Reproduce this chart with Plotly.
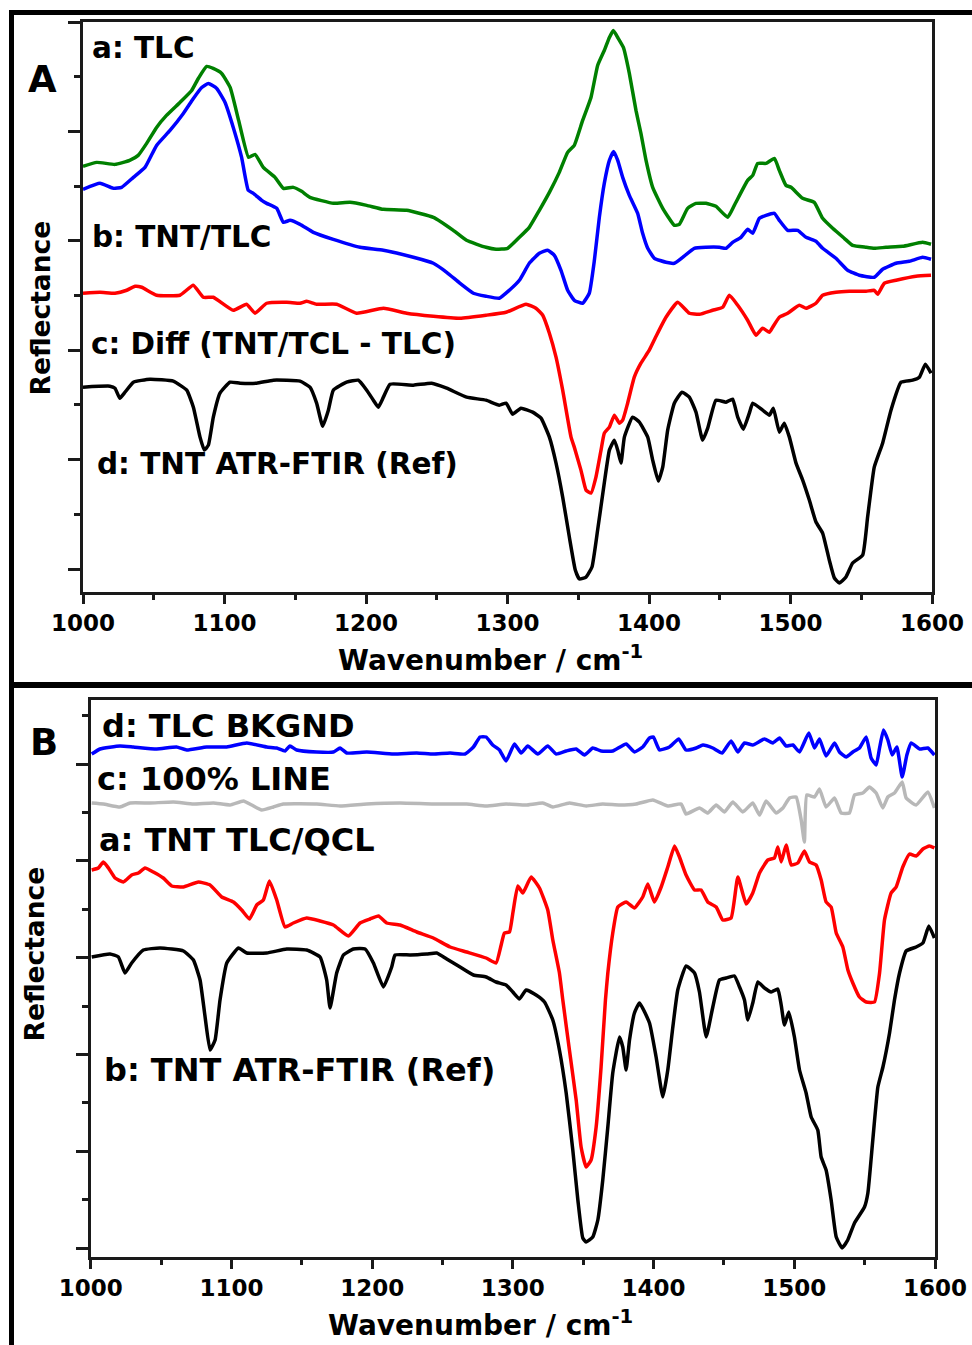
import plotly.graph_objects as go

W, H = 972, 1345

# ---------------- Panel A data (wavenumber cm^-1, reflectance a.u., stacked) ----------------
a_tlc_wn = [1000, 1009.7, 1022.6, 1033, 1039, 1045, 1052, 1059, 1068.5, 1076.8, 1081.5, 1087.4, 1092, 1098,
            1104, 1110, 1117, 1121.6, 1127.4, 1135.7, 1141.6, 1148.6, 1154.5, 1160.4, 1177, 1188.7, 1200.5,
            1212.3, 1228.7, 1247.6, 1261.7, 1271, 1284.8, 1291.9, 1300.1, 1308.4, 1315.4, 1322.5, 1329.6,
            1336.6, 1342.5, 1347.2, 1353.1, 1359, 1363.7, 1368.4, 1372, 1374.8, 1377.9, 1381.9, 1386.1,
            1390.8, 1394.3, 1397.9, 1402.6, 1409.7, 1417.9, 1421.4, 1427.3, 1433.2, 1440.3, 1447.3, 1455.6,
            1460.3, 1469.7, 1473.3, 1476.8, 1482.7, 1488.6, 1492.1, 1496.8, 1500.4, 1508.6, 1516.8, 1522.7,
            1529.8, 1538, 1543.9, 1553.4, 1559.2, 1567.5, 1579.3, 1593.4, 1599.3]
a_tlc_r = [403, 407, 405, 409, 414, 426, 442, 454, 467, 479, 491, 503, 501, 496,
           482, 449, 412, 415, 402, 392, 381, 382, 378, 372, 366, 367, 364,
           360, 359, 352, 339, 329, 322, 320, 321, 332, 342, 359, 377,
           397, 417, 424, 449, 472, 504, 519, 532, 539, 532, 522, 496,
           459, 436, 409, 382, 361, 344, 345, 361, 366, 366, 363, 352,
           364, 389, 394, 406, 406, 411, 399, 384, 382, 371, 367, 351,
           341, 331, 324, 322, 321, 322, 323, 327, 325]

a_tnt_wn = [1000, 1012, 1021.4, 1027.3, 1035.6, 1043.8, 1052, 1061.5, 1070.9, 1078, 1083.9, 1088.6, 1094.5,
            1100.4, 1106.2, 1112.1, 1116.8, 1120.4, 1126.3, 1129.8, 1136.9, 1141.6, 1146.3, 1153.4, 1162.8,
            1176.9, 1195.8, 1212.3, 1233.5, 1247.6, 1257, 1266.4, 1275.9, 1284.8, 1294.2, 1301.3, 1308.4,
            1315.4, 1322.5, 1328.4, 1333.1, 1337.8, 1342.5, 1347.2, 1353.1, 1357.8, 1361.4, 1364.9, 1368.4,
            1372, 1375, 1377.9, 1381.4, 1386.1, 1392, 1395.5, 1399.1, 1403.8, 1412, 1417.9, 1423.8, 1432,
            1440.3, 1449.7, 1454.4, 1459.1, 1465, 1469.7, 1473.3, 1478, 1482.7, 1488.6, 1492.1, 1498, 1505.1,
            1511, 1518, 1522.7, 1532.1, 1540.4, 1548.6, 1559.2, 1565.1, 1574.6, 1584, 1593.4, 1599.3]
a_tnt_r = [380, 386, 381, 382, 392, 402, 424, 439, 456, 471, 482, 486, 481,
           467, 442, 412, 379, 376, 369, 366, 361, 347, 349, 345, 337,
           330, 322, 319, 312, 306, 297, 286, 276, 273, 271, 279, 289,
           306, 316, 319, 314, 299, 279, 269, 266, 276, 309, 352, 386,
           409, 418, 409, 392, 374, 356, 336, 321, 311, 307, 306, 312, 321,
           322, 322, 321, 327, 332, 340, 336, 351, 354, 356, 349, 339, 339,
           332, 328, 321, 311, 299, 294, 292, 300, 306, 308, 312, 310]

a_diff_wn = [1000, 1012, 1022.6, 1030.9, 1036.8, 1041.5, 1052, 1068.5, 1077.9, 1085, 1092.1, 1106.2, 1115.6,
             1121.6, 1129.8, 1144, 1153.4, 1158.1, 1165.1, 1179.3, 1193.4, 1212.3, 1228.7, 1247.6, 1266.4,
             1284.8, 1299, 1313.1, 1320.1, 1324.9, 1329.6, 1334.3, 1339, 1344.9, 1347.2, 1351.9, 1355.5,
             1359, 1362.5, 1366.1, 1368.4, 1372, 1375.5, 1379, 1381.4, 1384.9, 1389.6, 1394.3, 1400.2, 1405,
             1412, 1420.3, 1428.5, 1435.6, 1445, 1452.1, 1456.8, 1462.7, 1469.7, 1475.6, 1480.3, 1485.1,
             1487.4, 1492.1, 1498, 1506.2, 1511, 1518, 1522.7, 1532.1, 1541.6, 1553.4, 1559.2, 1561.6, 1566.3,
             1574.6, 1588.7, 1599.3]
a_diff_r = [276, 277, 276, 279, 283, 282, 274, 274, 284, 272, 272, 259, 265,
            256, 266, 267, 266, 268, 265, 265, 256, 261, 256, 253, 251,
            254, 257, 265, 261, 254, 236, 212, 179, 132, 122, 99, 79,
            76, 92, 119, 136, 142, 154, 146, 149, 166, 192, 206, 219, 233,
            252, 267, 256, 255, 259, 262, 274, 264, 249, 234, 241, 237,
            242, 252, 256, 264, 261, 266, 274, 277, 278, 278, 279, 275, 286,
            289, 293, 294]

a_ref_wn = [1000, 1019, 1022.6, 1026, 1029.7, 1035.6, 1047.3, 1063.8, 1073.3, 1078, 1082.7, 1085.7, 1088.6,
            1092.1, 1096.8, 1103.9, 1111, 1122.7, 1134.5, 1153.4, 1160.4, 1165.1, 1169.4, 1173.4, 1176.9,
            1186.3, 1194.6, 1200.5, 1205.2, 1208.7, 1212.3, 1217, 1233.5, 1246.4, 1257, 1271.1, 1284.8,
            1294.2, 1299, 1303.6, 1309.5, 1317.8, 1323.7, 1329.6, 1334.3, 1339, 1343.7, 1347.9, 1350.8,
            1355.5, 1359.7, 1363.7, 1368.4, 1372, 1375.5, 1377.9, 1380.2, 1382.6, 1388.4, 1393.2, 1399.1,
            1402.6, 1406.6, 1409.7, 1413.2, 1417.9, 1423.3, 1428.5, 1433.2, 1437.9, 1441.5, 1447.3, 1454.4,
            1459.1, 1462.7, 1466.7, 1470.9, 1473.3, 1480.3, 1485.1, 1487.9, 1492.1, 1495.6, 1499.2, 1503.9,
            1508.6, 1513.3, 1518, 1522.7, 1527.4, 1531, 1534.5, 1539.2, 1543.9, 1551, 1554.5, 1559.2, 1565.1,
            1571, 1578.1, 1586.3, 1591.1, 1595.3, 1599.3]
a_ref_r = [182, 183, 181, 171, 177, 187, 190, 188, 179, 162, 132, 119, 124,
           152, 176, 187, 186, 186, 189, 188, 182, 166, 143, 159, 179,
           187, 189, 179, 169, 162, 172, 185, 184, 186, 181, 172, 169,
           164, 166, 155, 161, 157, 151, 132, 106, 72, 32, -1, -10,
           -8, 2, 39, 86, 119, 129, 119, 106, 132, 152, 147, 132,
           109, 88, 102, 139, 166, 177, 172, 157, 129, 141, 169, 167,
           170, 152, 140, 156, 166, 159, 154, 161, 137, 146, 132, 106,
           89, 69, 47, 36, 9, -9, -14, -8, 6, 14, 52, 102, 126,
           159, 187, 189, 192, 205, 196]

# ---------------- Panel B data ----------------
b_bkg_wn = [1000.7, 1006.6, 1020.8, 1030.3, 1046.9, 1061, 1068.2, 1082.4, 1096.7, 1110.9, 1125.1, 1132.2,
            1138.1, 1141.6, 1146.4, 1160.6, 1172.5, 1177.2, 1181.9, 1196.2, 1215.1, 1231.7, 1243.5, 1255.4,
            1266, 1272, 1276.7, 1281, 1285.7, 1290.5, 1295.2, 1301.1, 1305.9, 1310.6, 1317.7, 1324.8, 1330.8,
            1337.9, 1345, 1350.9, 1356.8, 1362.7, 1371, 1380.5, 1386.4, 1392.3, 1397.1, 1399.9, 1404.2,
            1411.3, 1417.9, 1423.1, 1430.3, 1435, 1442.1, 1448.7, 1455.1, 1459.9, 1464.6, 1470.5, 1478.8,
            1484.7, 1489.5, 1494.2, 1499, 1503.7, 1510.3, 1514.4, 1517.9, 1522.6, 1528.6, 1532.1, 1536.9,
            1541.6, 1546.3, 1551.1, 1554.6, 1558.2, 1560.6, 1563.4, 1566.5, 1569.6, 1572.9, 1576.7, 1580,
            1583.1, 1589, 1594.9, 1599.6]
b_bkg_r = [494, 499, 502, 501, 499, 501, 498, 501, 501, 505, 501, 500,
           497, 502, 498, 496, 496, 500, 495, 496, 494, 495, 494, 495,
           494, 501, 511, 511, 503, 498, 487, 504, 495, 502, 494, 502, 494,
           497, 499, 493, 500, 497, 497, 504, 496, 501, 510, 511, 498,
           501, 509, 498, 500, 503, 500, 495, 507, 496, 505, 503, 509,
           505, 510, 502, 503, 496, 515, 500, 509, 492, 505, 496, 491,
           496, 500, 511, 490, 483, 500, 518, 508, 493, 501, 471, 493,
           505, 499, 500, 493]

b_line_wn = [1000.7, 1009, 1020.8, 1028, 1042.2, 1058.8, 1073, 1087.2, 1099, 1108.5, 1114.4, 1121.5, 1129.8,
             1136.9, 1160.6, 1177.2, 1196.2, 1219.8, 1243.5, 1267.2, 1281, 1295.2, 1309.4, 1321.3, 1328.4,
             1340.2, 1352.1, 1363.9, 1375.8, 1387.6, 1399.5, 1410.1, 1419.6, 1423.1, 1432.6, 1438.5, 1444.5,
             1450.4, 1456.3, 1463.4, 1470.5, 1475.3, 1480, 1487.1, 1491.9, 1496.6, 1501.3, 1504.9, 1507.2,
             1508.9, 1514.4, 1517.9, 1522.6, 1528.6, 1533.3, 1539.2, 1542.8, 1548.7, 1553.4, 1558.2, 1562.9,
             1566.5, 1571.2, 1576.7, 1579.5, 1586.6, 1594.9, 1599.6]
b_line_r = [445, 444, 441, 445, 445, 446, 444, 445, 443, 447, 443, 438, 441,
            444, 444, 442, 444, 445, 444, 444, 442, 444, 443, 445, 441,
            445, 442, 444, 443, 444, 448, 442, 444, 434, 440, 435, 443,
            436, 446, 436, 445, 433, 447, 435, 440, 450, 451, 428, 406,
            453, 451, 459, 441, 450, 435, 435, 453, 455, 461, 455, 440,
            451, 455, 466, 450, 443, 456, 440]

b_qcl_wn = [1000.7, 1005.4, 1009, 1012.6, 1017.3, 1023.2, 1029.1, 1033.9, 1038.6, 1044.5, 1051.6, 1057.6,
            1065.9, 1076.5, 1084.8, 1093.1, 1101.4, 1107.3, 1112.8, 1118, 1122.7, 1127, 1132.2, 1138.1, 1144,
            1153.5, 1163, 1172.5, 1183.1, 1191.4, 1198.5, 1204.5, 1210.4, 1219.9, 1231.7, 1243.5, 1255.4,
            1267.2, 1281, 1288.1, 1291.7, 1294, 1297.6, 1300, 1303.5, 1307.1, 1313, 1318.9, 1324.8, 1328.4,
            1333.1, 1335.5, 1340.2, 1345, 1348.5, 1352.1, 1355.6, 1359.2, 1362.7, 1365.8, 1367.5, 1371,
            1374.6, 1380.5, 1386.4, 1392.3, 1395.9, 1400.6, 1405.4, 1410.1, 1414.9, 1418.4, 1423.1, 1429.1,
            1433.8, 1438.5, 1444.5, 1449.2, 1455.1, 1459.9, 1465.8, 1470.5, 1475.3, 1481.2, 1485.9, 1488.3,
            1490.7, 1494.2, 1497.8, 1502.5, 1507.2, 1510.8, 1515.5, 1519.1, 1522.6, 1526.2, 1529.8, 1534.5,
            1538.1, 1541.6, 1546.3, 1551.1, 1557, 1560.6, 1564.1, 1568.8, 1572.4, 1577.1, 1581.9, 1586.6,
            1591.4, 1596.1, 1599.6]
b_qcl_r = [378, 380, 386, 380, 370, 366, 373, 375, 380, 376, 370, 362,
           361, 366, 363, 351, 346, 338, 329, 343, 348, 367, 348, 321, 325,
           330, 327, 323, 312, 325, 329, 332, 325, 323, 316, 310, 301,
           296, 290, 285, 303, 315, 316, 335, 362, 355, 371, 360, 338, 308,
           275, 248, 198, 148, 101, 81, 88, 121, 181, 248, 275, 315,
           341, 346, 340, 351, 364, 346, 361, 381, 402, 391, 373, 358,
           358, 346, 341, 328, 330, 371, 344, 355, 375, 388, 390, 401,
           386, 403, 383, 385, 397, 386, 383, 368, 346, 341, 315, 301,
           278, 265, 251, 246, 246, 275, 328, 355, 361, 381, 394, 392,
           399, 402, 400]

b_ref_wn = [1000.7, 1013.7, 1019.7, 1024.4, 1029.1, 1037.4, 1049.3, 1065.9, 1073, 1077.7, 1081.3, 1084.8,
            1088.4, 1091.9, 1096.7, 1105, 1110.9, 1125.1, 1139.3, 1153.5, 1163, 1167.7, 1170.1, 1174.8, 1179.6,
            1186.7, 1195, 1200.9, 1208, 1213.9, 1216.3, 1227, 1238.8, 1245.9, 1253, 1262.5, 1272, 1281,
            1288.1, 1295.2, 1300, 1304.7, 1309.4, 1316.5, 1322.5, 1328.4, 1333.1, 1337.9, 1342.6, 1346.2,
            1349.7, 1352.1, 1356.8, 1360.4, 1363.9, 1367.5, 1371, 1375.8, 1378.1, 1380.5, 1382.9, 1386.4,
            1390, 1397.1, 1401.8, 1406.6, 1410.1, 1413.7, 1417.2, 1423.1, 1429.1, 1432.6, 1437.4, 1442.1,
            1446.8, 1451.6, 1457.5, 1461.1, 1464.6, 1467, 1470.5, 1474.1, 1478.8, 1483.6, 1488.3, 1490.7,
            1493, 1496.1, 1500.1, 1503.7, 1508.4, 1512, 1516.7, 1519.1, 1522.6, 1526.2, 1529.8, 1534, 1538,
            1542.8, 1549.9, 1552.3, 1555.8, 1559.4, 1563, 1567.7, 1571.2, 1574.8, 1579.5, 1586.6, 1591.4,
            1595.6, 1599.6]
b_ref_r = [291, 294, 291, 275, 285, 298, 300, 297, 288, 268, 231, 198,
           208, 248, 285, 300, 295, 295, 299, 298, 291, 268, 240, 275, 293,
           299, 299, 285, 261, 281, 293, 293, 294, 295, 289, 281, 273, 271,
           266, 263, 256, 249, 258, 253, 246, 228, 198, 155, 98, 48,
           10, 6, 11, 28, 68, 121, 175, 211, 201, 178, 208, 235,
           245, 225, 191, 151, 178, 221, 258, 282, 275, 256, 211, 241,
           268, 270, 272, 261, 248, 228, 245, 266, 260, 256, 259, 243,
           223, 236, 211, 178, 155, 131, 118, 91, 78, 48, 11, 0, 8,
           25, 41, 55, 108, 161, 181, 215, 248, 275, 297, 301, 305,
           322, 310]

x_ticks = [1000, 1100, 1200, 1300, 1400, 1500, 1600]
x_minor = [1050, 1150, 1250, 1350, 1450, 1550]

# ---------------- Figure ----------------
def px(x):
    return x / W

def py(y):
    return 1 - y / H

FONT = "DejaVu Sans"
AX = "#1a1a1a"

fig = go.Figure()
LW = 3.5
traces = [
    (a_tlc_wn, a_tlc_r, "#008000", "x", "y"),
    (a_tnt_wn, a_tnt_r, "#0000FF", "x", "y"),
    (a_diff_wn, a_diff_r, "#FF0000", "x", "y"),
    (a_ref_wn, a_ref_r, "#000000", "x", "y"),
    (b_bkg_wn, b_bkg_r, "#0000FF", "x2", "y2"),
    (b_line_wn, b_line_r, "#B8B8B8", "x2", "y2"),
    (b_qcl_wn, b_qcl_r, "#FF0000", "x2", "y2"),
    (b_ref_wn, b_ref_r, "#000000", "x2", "y2"),
]
for xs, ys, c, xa, ya in traces:
    fig.add_trace(go.Scatter(x=xs, y=ys, mode="lines",
                             line=dict(color=c, width=LW, shape="spline", smoothing=0.4),
                             xaxis=xa, yaxis=ya, showlegend=False, hoverinfo="skip"))

tickfont = dict(family=FONT, size=23, color="black", weight="bold")
xcommon = dict(range=[1000, 1600], tickmode="array", tickvals=x_ticks, ticktext=[str(t) for t in x_ticks],
               ticks="outside", ticklen=9, tickwidth=2.5, tickcolor=AX, showline=True, linecolor=AX,
               linewidth=2.5, mirror=True, showgrid=False, zeroline=False, tickfont=tickfont,
               automargin=False,
               minor=dict(tickmode="array", tickvals=x_minor, ticks="outside",
                          ticklen=5, tickwidth=2.5, tickcolor=AX, showgrid=False))
ycommon = dict(ticks="outside", ticklen=12, tickwidth=2.5, tickcolor=AX, showticklabels=False,
               showline=True, linecolor=AX, linewidth=2.5, mirror=True, showgrid=False, zeroline=False,
               automargin=False)
fig.update_layout(
    template="none",
    width=W, height=H, margin=dict(l=0, r=0, t=0, b=0, pad=0, autoexpand=False),
    paper_bgcolor="white", plot_bgcolor="white", showlegend=False,
    xaxis=dict(domain=[px(83), px(932)], anchor="y", **xcommon),
    yaxis=dict(domain=[py(592), py(22)], anchor="x", range=[-23, 547.5], tick0=0, dtick=109.5,
               minor=dict(dtick=54.75, ticks="outside", ticklen=6, tickwidth=2.5, tickcolor=AX, showgrid=False),
               **ycommon),
    xaxis2=dict(domain=[px(90.7), px(935)], anchor="y2", **xcommon),
    yaxis2=dict(domain=[py(1257), py(700)], anchor="x2", range=[-9, 548], tick0=0, dtick=96.8,
                minor=dict(dtick=48.4, ticks="outside", ticklen=6, tickwidth=2.5, tickcolor=AX, showgrid=False),
                **ycommon),
)

# frame lines
shapes = [
    dict(type="line", xref="paper", yref="paper", x0=px(9), x1=px(972), y0=py(12.5), y1=py(12.5),
         line=dict(color="black", width=5)),
    dict(type="line", xref="paper", yref="paper", x0=px(11.5), x1=px(11.5), y0=py(10), y1=py(1345),
         line=dict(color="black", width=5)),
    dict(type="line", xref="paper", yref="paper", x0=px(9), x1=px(972), y0=py(685), y1=py(685),
         line=dict(color="black", width=6)),
]
fig.update_layout(shapes=shapes)

def ann(text, x, y, size, xanchor="left", angle=0):
    return dict(text=text, x=px(x), y=py(y), xref="paper", yref="paper", xanchor=xanchor, yanchor="middle",
                showarrow=False, textangle=angle, font=dict(family=FONT, size=size, color="black", weight="bold"))

anns = [
    ann("A", 42.5, 80, 37, "center"),
    ann("a: TLC", 90, 48, 29.5),
    ann("b: TNT/TLC", 90, 237.5, 29.5),
    ann("c: Diff (TNT/TCL - TLC)", 88.5, 343.5, 29.5),
    ann("d: TNT ATR-FTIR (Ref)", 95, 464, 29.5),
    ann("Reflectance", 40, 308.5, 26.5, "center", -90),
    ann("Wavenumber / cm<sup>-1</sup>", 490, 658, 28, "center"),
    ann("B", 43.5, 742.5, 37, "center"),
    ann("d: TLC BKGND", 100, 726, 32),
    ann("c: 100% LINE", 95, 779, 32),
    ann("a: TNT TLC/QCL", 96.5, 840, 32),
    ann("b: TNT ATR-FTIR (Ref)", 101.5, 1070, 32),
    ann("Reflectance", 34, 954.5, 26.5, "center", -90),
    ann("Wavenumber / cm<sup>-1</sup>", 480, 1323, 28, "center"),
]
fig.update_layout(annotations=anns)

fig.write_html("out.html")
